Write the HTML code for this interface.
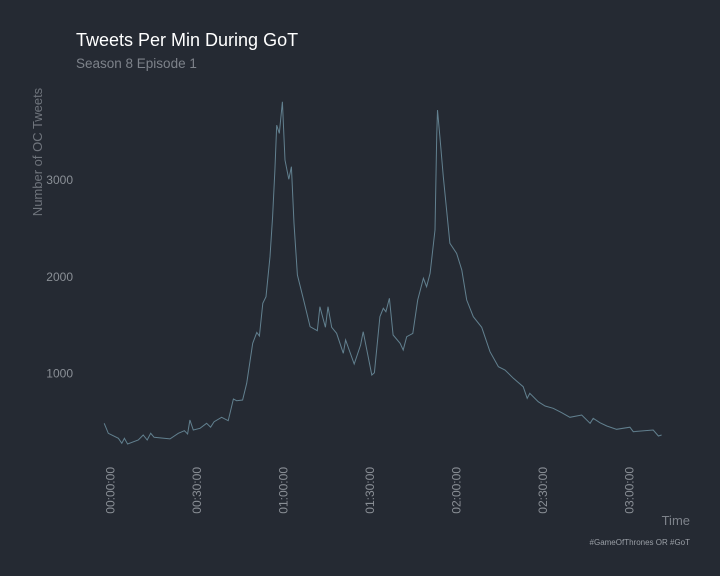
<!DOCTYPE html>
<html><head><meta charset="utf-8"><style>
html,body{margin:0;padding:0;background:#252a33;}
svg{display:block;font-family:"Liberation Sans",sans-serif;}
</style></head><body>
<svg id="chart" width="720" height="576" viewBox="0 0 720 576">
<rect x="0" y="0" width="720" height="576" fill="#252a33"/>
<text x="76" y="46" font-size="18" fill="#ffffff">Tweets Per Min During GoT</text>
<text x="76" y="68" font-size="13.5" fill="#7d828a">Season 8 Episode 1</text>
<text transform="translate(42,152) rotate(-90)" text-anchor="middle" font-size="13" fill="#6f747c">Number of OC Tweets</text>
<text x="690" y="525" text-anchor="end" font-size="13" fill="#7d828a">Time</text>
<text x="690" y="545" text-anchor="end" font-size="8" fill="#9a9fa6">#GameOfThrones OR #GoT</text>
<g id="yticks"></g>
<g id="xticks"></g>
<path id="line" fill="none" stroke="#62808f" stroke-width="1"/>
</svg>
<script>
const minutes=[-2.0,-0.6,2.9,4.1,5.0,6.1,9.8,11.5,12.9,14.1,15.3,20.8,23.7,25.8,26.9,27.7,28.9,31.2,33.5,34.9,36.1,38.7,41.0,42.8,43.9,46.0,47.4,49.5,50.9,51.8,53.0,54.1,55.5,56.4,57.2,57.8,58.7,59.8,60.7,62.0,62.9,63.8,65.0,67.0,69.4,71.9,72.8,74.7,75.6,76.9,78.6,80.9,81.7,84.7,86.9,87.8,90.8,91.7,93.6,94.8,95.7,96.9,98.2,100.6,101.7,102.9,105.0,106.7,108.7,109.8,111.0,112.7,113.3,113.6,114.4,115.6,117.9,120.2,122.0,123.7,126.0,128.9,131.8,134.7,137.0,139.9,143.3,144.7,145.6,148.5,150.9,153.7,156.6,159.5,163.6,166.5,167.6,169.9,172.3,175.7,180.3,181.5,188.4,190.2,191.3];
const tweets=[480,376,325,273,325,266,307,359,307,376,335,318,376,403,369,514,411,428,480,439,496,542,507,731,714,721,893,1307,1420,1383,1721,1789,2203,2616,3099,3564,3478,3805,3202,3003,3133,2548,2013,1772,1479,1437,1686,1473,1686,1473,1411,1204,1341,1093,1290,1427,979,1003,1582,1669,1634,1772,1393,1307,1238,1375,1410,1755,1979,1892,2031,2479,3443,3719,3443,3030,2341,2238,2065,1755,1582,1473,1220,1065,1031,945,858,738,790,703,659,635,590,542,566,480,532,486,452,418,439,393,411,349,359];
const yTicks=[1000,2000,3000];
const xTickMinutes=[0,30,60,90,120,150,180];
const xTickLabels=["00:00:00","00:30:00","01:00:00","01:30:00","02:00:00","02:30:00","03:00:00"];

const xs=m=>110+m*(86.5/30);
const ys=v=>373-(v-1000)*(96.7/1000);
const NS="http://www.w3.org/2000/svg";
const yg=document.getElementById('yticks');
yTicks.forEach(v=>{
  const t=document.createElementNS(NS,'text');
  t.setAttribute('x',73);t.setAttribute('y',ys(v)+4.5);
  t.setAttribute('text-anchor','end');t.setAttribute('font-size','12');t.setAttribute('fill','#8a8f96');
  
  
  t.textContent=v;yg.appendChild(t);
});
const xg=document.getElementById('xticks');
xTickMinutes.forEach((m,i)=>{
  const t=document.createElementNS(NS,'text');
  const x=xs(m)+4.5;
  t.setAttribute('transform','translate('+x+',467) rotate(-90)');
  t.setAttribute('text-anchor','end');t.setAttribute('font-size','12');t.setAttribute('fill','#8a8f96');
  
  
  t.textContent=xTickLabels[i];xg.appendChild(t);
});
let d='';
minutes.forEach((m,i)=>{d+=(i?'L':'M')+xs(m).toFixed(1)+','+ys(tweets[i]).toFixed(1);});
document.getElementById('line').setAttribute('d',d);
</script>
</body></html>
